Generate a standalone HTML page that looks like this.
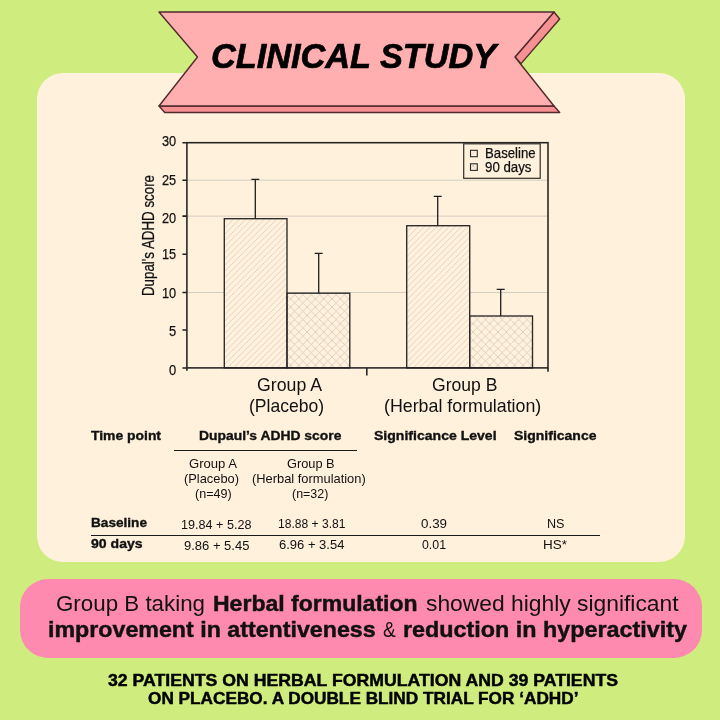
<!DOCTYPE html>
<html lang="en">
<head>
<meta charset="utf-8">
<title>Clinical Study</title>
<style>
html,body{margin:0;padding:0}
body{width:720px;height:720px;overflow:hidden;background:#CEED7E;position:relative;font-family:"Liberation Sans",sans-serif}
.card{position:absolute;left:37px;top:73px;width:648px;height:489px;border-radius:26px;background:#FFF1DC}
.pink{position:absolute;left:20px;top:579px;width:682px;height:78.6px;border-radius:28px;background:#FF8AB0}
svg.art{position:absolute;left:0;top:0}
.t{position:absolute;white-space:nowrap;line-height:1;transform-origin:0 0;margin:0}
.t b{font-weight:700}
.rule{position:absolute;background:#1a1a1a;height:1.5px}
</style>
</head>
<body>
<div class="card"></div>
<div class="pink"></div>
<svg class="art" width="720" height="720" viewBox="0 0 720 720">
<defs>
<pattern id="hatch" width="6.2" height="6.2" patternUnits="userSpaceOnUse">
<path d="M-1 7.2 L7.2 -1 M-1 1 L1 -1 M5.2 7.2 L7.2 5.2" stroke="#d3cbbd" stroke-width="0.75" fill="none"/>
</pattern>
<pattern id="cross" width="8.3" height="8.3" patternUnits="userSpaceOnUse">
<path d="M-1 9.3 L9.3 -1 M-1 -1 L9.3 9.3" stroke="#cbc3b6" stroke-width="0.7" fill="none"/>
</pattern>
</defs>
<!-- ribbon -->
<g stroke="#52292c" stroke-width="1.4" stroke-linejoin="round">
<polygon points="159,106 554,106 559.7,112.5 164.7,112.5" fill="#F79092"/>
<polygon points="554,12 559.7,19 521,63.6 515,57" fill="#F79092"/>
<polygon points="159,12 554,12 515,57 554,106 159,106 197.5,57" fill="#FFAFAF"/>
</g>
<!-- chart gridlines -->
<g fill="none" stroke="#d3ccbf" stroke-width="1">
<line x1="186.9" y1="180.2" x2="548" y2="180.2"/>
<line x1="186.9" y1="216.1" x2="548" y2="216.1"/>
<line x1="186.9" y1="292.5" x2="548" y2="292.5"/>
</g>
<!-- bars -->
<g fill="#FFF1DC"><rect x="224.3" y="218.7" width="62.7" height="149.2"/><rect x="287" y="293.2" width="62.8" height="74.7"/><rect x="406.7" y="225.7" width="63" height="142.2"/><rect x="469.7" y="316" width="62.8" height="51.9"/></g>
<g stroke="#2b2927" stroke-width="1.35">
<rect x="224.3" y="218.7" width="62.7" height="149.2" fill="url(#hatch)"/>
<rect x="287" y="293.2" width="62.8" height="74.7" fill="url(#cross)"/>
<rect x="406.7" y="225.7" width="63" height="142.2" fill="url(#hatch)"/>
<rect x="469.7" y="316" width="62.8" height="51.9" fill="url(#cross)"/>
</g>
<!-- error bars -->
<g stroke="#1e1e1e" stroke-width="1.3" fill="none">
<path d="M255.3 218.7V179.3M251.3 179.3h8"/>
<path d="M318.7 293.2V253.3M314.7 253.3h8"/>
<path d="M437.7 225.7V196.3M433.7 196.3h8"/>
<path d="M500.7 316V289.3M496.7 289.3h8"/>
</g>
<!-- axes -->
<g stroke="#232221" stroke-width="1.55" fill="none">
<rect x="186.9" y="142.7" width="361.1" height="225.2"/>
<path d="M182.4 142.7h4.5M182.4 180.2h4.5M182.4 216.1h4.5M182.4 254.3h4.5M182.4 292.5h4.5M182.4 330h4.5M182.4 367.9h4.5"/>
<path d="M186.9 367.9v2.8M366.8 367.9v7.5M548 367.9v3.8"/>
</g>
<!-- legend -->
<rect x="463.7" y="143.8" width="76.5" height="34.5" fill="#FFF1DC" stroke="#2e2c2a" stroke-width="1.2"/>
<rect x="470.5" y="150.3" width="6.8" height="6.4" fill="url(#hatch)" stroke="#2e2c2a" stroke-width="1.1"/>
<rect x="470.5" y="163.8" width="6.8" height="6.6" fill="url(#cross)" stroke="#2e2c2a" stroke-width="1.1"/>
</svg>

<div class="rule" style="left:174px;top:449.6px;width:182.7px"></div>
<div class="rule" style="left:90.7px;top:534.8px;width:509.3px"></div>
<div class="t" style="left:210.50px;top:39.20px;font-size:34.5px;color:#000;transform:scaleX(0.9942);font-weight:700;font-style:italic;-webkit-text-stroke:0.7px #000">CLINICAL STUDY</div>
<div class="t" style="left:256.70px;top:376.24px;font-size:18.5px;color:#111;transform:scaleX(0.9574)">Group A</div>
<div class="t" style="left:249.30px;top:397.34px;font-size:18.5px;color:#111;transform:scaleX(0.9471)">(Placebo)</div>
<div class="t" style="left:432.30px;top:376.24px;font-size:18.5px;color:#111;transform:scaleX(0.9491)">Group B</div>
<div class="t" style="left:384.00px;top:396.94px;font-size:18.5px;color:#111;transform:scaleX(0.9622)">(Herbal formulation)</div>
<div class="t" style="left:90.70px;top:430.26px;font-size:12.8px;color:#111;transform:scaleX(1.0858);font-weight:700;-webkit-text-stroke:0.35px #111">Time point</div>
<div class="t" style="left:199.30px;top:430.06px;font-size:12.8px;color:#111;transform:scaleX(1.0844);font-weight:700;-webkit-text-stroke:0.35px #111">Dupaul’s ADHD score</div>
<div class="t" style="left:374.40px;top:430.26px;font-size:12.8px;color:#111;transform:scaleX(1.0979);font-weight:700;-webkit-text-stroke:0.35px #111">Significance Level</div>
<div class="t" style="left:514.00px;top:430.26px;font-size:12.8px;color:#111;transform:scaleX(1.0943);font-weight:700;-webkit-text-stroke:0.35px #111">Significance</div>
<div class="t" style="left:189.30px;top:457.97px;font-size:12.2px;color:#111;transform:scaleX(1.0734)">Group A</div>
<div class="t" style="left:184.30px;top:472.97px;font-size:12.2px;color:#111;transform:scaleX(1.0542)">(Placebo)</div>
<div class="t" style="left:195.00px;top:487.57px;font-size:12.2px;color:#111;transform:scaleX(1.0315)">(n=49)</div>
<div class="t" style="left:286.70px;top:457.97px;font-size:12.2px;color:#111;transform:scaleX(1.0487)">Group B</div>
<div class="t" style="left:252.30px;top:472.97px;font-size:12.2px;color:#111;transform:scaleX(1.0557)">(Herbal formulation)</div>
<div class="t" style="left:292.30px;top:487.57px;font-size:12.2px;color:#111;transform:scaleX(1.0231)">(n=32)</div>
<div class="t" style="left:90.70px;top:517.26px;font-size:12.8px;color:#111;transform:scaleX(1.0638);font-weight:700;-webkit-text-stroke:0.35px #111">Baseline</div>
<div class="t" style="left:181.30px;top:518.77px;font-size:12.5px;color:#111;transform:scaleX(1.0077)">19.84 + 5.28</div>
<div class="t" style="left:278.30px;top:518.02px;font-size:12.5px;color:#111;transform:scaleX(0.9662)">18.88 + 3.81</div>
<div class="t" style="left:421.00px;top:518.02px;font-size:12.5px;color:#111;transform:scaleX(1.0680)">0.39</div>
<div class="t" style="left:546.50px;top:518.02px;font-size:12.5px;color:#111;transform:scaleX(1.0072)">NS</div>
<div class="t" style="left:90.70px;top:538.06px;font-size:12.8px;color:#111;transform:scaleX(1.0986);font-weight:700;-webkit-text-stroke:0.35px #111">90 days</div>
<div class="t" style="left:184.20px;top:539.62px;font-size:12.5px;color:#111;transform:scaleX(1.0396)">9.86 + 5.45</div>
<div class="t" style="left:279.20px;top:538.77px;font-size:12.5px;color:#111;transform:scaleX(1.0396)">6.96 + 3.54</div>
<div class="t" style="left:422.00px;top:538.62px;font-size:12.5px;color:#111;transform:scaleX(0.9859)">0.01</div>
<div class="t" style="left:543.00px;top:538.62px;font-size:12.5px;color:#111;transform:scaleX(1.0794)">HS*</div>
<div class="t" style="left:56.00px;top:592.72px;font-size:22.3px;color:#111;transform:scaleX(1.0018)">Group B taking</div>
<div class="t" style="left:212.70px;top:592.72px;font-size:22.3px;color:#111;transform:scaleX(1.0322);font-weight:700;-webkit-text-stroke:0.45px #111">Herbal formulation</div>
<div class="t" style="left:425.70px;top:592.72px;font-size:22.3px;color:#111;transform:scaleX(1.0241)">showed highly significant</div>
<div class="t" style="left:48.30px;top:619.02px;font-size:22.3px;color:#111;transform:scaleX(1.0412);font-weight:700;-webkit-text-stroke:0.45px #111">improvement in attentiveness</div>
<div class="t" style="left:383.30px;top:619.02px;font-size:22.3px;color:#111;transform:scaleX(0.8538)">&amp;</div>
<div class="t" style="left:402.70px;top:619.02px;font-size:22.3px;color:#111;transform:scaleX(1.0466);font-weight:700;-webkit-text-stroke:0.45px #111">reduction in hyperactivity</div>
<div class="t" style="left:108.00px;top:672.12px;font-size:16.4px;color:#000;transform:scaleX(1.0784);font-weight:700;-webkit-text-stroke:0.45px #000">32 PATIENTS ON HERBAL FORMULATION AND 39 PATIENTS</div>
<div class="t" style="left:148.00px;top:689.72px;font-size:16.4px;color:#000;transform:scaleX(1.0498);font-weight:700;-webkit-text-stroke:0.45px #000">ON PLACEBO. A DOUBLE BLIND TRIAL FOR ‘ADHD’</div>
<div class="t" style="left:484.70px;top:144.85px;font-size:15.3px;color:#111;transform:scaleX(0.8622);-webkit-text-stroke:0.25px #111">Baseline</div>
<div class="t" style="left:484.70px;top:158.65px;font-size:15.3px;color:#111;transform:scaleX(0.8679);-webkit-text-stroke:0.25px #111">90 days</div>
<div class="t" style="left:161.80px;top:133.28px;font-size:15.5px;color:#111;transform:scaleX(0.8232);-webkit-text-stroke:0.25px #111">30</div>
<div class="t" style="left:161.80px;top:172.48px;font-size:15.5px;color:#111;transform:scaleX(0.8232);-webkit-text-stroke:0.25px #111">25</div>
<div class="t" style="left:161.80px;top:209.68px;font-size:15.5px;color:#111;transform:scaleX(0.8232);-webkit-text-stroke:0.25px #111">20</div>
<div class="t" style="left:161.80px;top:246.48px;font-size:15.5px;color:#111;transform:scaleX(0.8232);-webkit-text-stroke:0.25px #111">15</div>
<div class="t" style="left:161.80px;top:284.78px;font-size:15.5px;color:#111;transform:scaleX(0.8232);-webkit-text-stroke:0.25px #111">10</div>
<div class="t" style="left:168.80px;top:322.68px;font-size:15.5px;color:#111;transform:scaleX(0.8348);-webkit-text-stroke:0.25px #111">5</div>
<div class="t" style="left:168.80px;top:361.98px;font-size:15.5px;color:#111;transform:scaleX(0.8348);-webkit-text-stroke:0.25px #111">0</div>
<div class="t" style="left:139.91px;top:296.4px;font-size:17px;color:#111;transform:rotate(-90deg) scaleX(0.7836);-webkit-text-stroke:0.25px #111">Dupal's ADHD score</div>
</body>
</html>
